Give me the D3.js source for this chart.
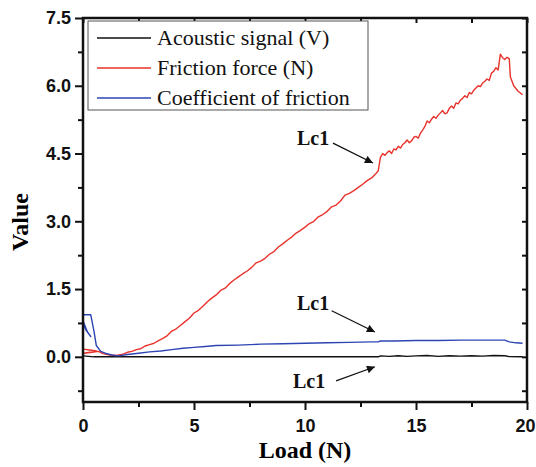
<!DOCTYPE html>
<html>
<head>
<meta charset="utf-8">
<script src="https://cdn.jsdelivr.net/npm/d3@7/dist/d3.min.js"></script>
<style>
    html, body { margin: 0; padding: 0; background: #fff; }
    svg { display: block; font-family: "Liberation Serif", "Times New Roman", serif; }
    .tick-label { font-size: 18px; font-weight: bold; }
    .axis-title { font-size: 24px; font-weight: bold; }
    .legend-text { font-size: 22px; }
    .note { font-size: 20px; font-weight: bold; }
</style>
</head>
<body>
<svg id="chart" width="536" height="467"></svg>
<script>
// series: [load (N), value]
var friction = [
    [0, 0.17], [0.3, 0.15], [0.6, 0.13], [0.05, 0.08], [0.4, 0.10], [0.7, 0.12], [0.9, 0.07],
    [1.2, 0.04], [1.5, 0.03], [1.8, 0.06], [2.0, 0.10], [2.2, 0.12], [2.4, 0.16], [2.6, 0.18],
    [2.8, 0.24], [3.0, 0.27], [3.2, 0.30], [3.4, 0.36], [3.6, 0.41], [3.8, 0.47], [4.0, 0.57],
    [4.2, 0.62], [4.4, 0.70], [4.6, 0.78], [4.8, 0.86], [5.0, 0.97], [5.2, 1.03], [5.4, 1.12],
    [5.6, 1.22], [5.8, 1.30], [6.0, 1.37], [6.2, 1.47], [6.4, 1.52], [6.6, 1.62], [6.8, 1.70],
    [7.0, 1.77], [7.2, 1.84], [7.4, 1.90], [7.6, 1.98], [7.8, 2.08], [8.0, 2.12], [8.2, 2.18],
    [8.4, 2.27], [8.6, 2.33], [8.8, 2.43], [9.0, 2.50], [9.2, 2.58], [9.4, 2.65], [9.6, 2.74],
    [9.8, 2.80], [10.0, 2.87], [10.2, 2.95], [10.4, 3.00], [10.6, 3.10], [10.8, 3.15], [11.0, 3.22],
    [11.2, 3.32], [11.4, 3.36], [11.6, 3.45], [11.8, 3.58], [12.0, 3.62], [12.2, 3.68], [12.4, 3.75],
    [12.6, 3.82], [12.8, 3.90], [13.0, 3.96], [13.2, 4.06], [13.3, 4.12], [13.4, 4.42], [13.5, 4.50],
    [13.6, 4.46], [13.7, 4.52], [13.8, 4.56], [13.9, 4.50], [14.0, 4.60], [14.1, 4.58], [14.2, 4.66],
    [14.3, 4.62], [14.4, 4.70], [14.5, 4.74], [14.6, 4.80], [14.7, 4.74], [14.8, 4.78], [14.9, 4.86],
    [15.0, 4.88], [15.1, 4.84], [15.2, 4.95], [15.3, 5.02], [15.4, 5.10], [15.5, 5.22], [15.6, 5.18],
    [15.7, 5.26], [15.8, 5.32], [15.9, 5.28], [16.0, 5.35], [16.1, 5.40], [16.2, 5.45], [16.3, 5.38],
    [16.4, 5.40], [16.5, 5.50], [16.6, 5.55], [16.7, 5.50], [16.8, 5.62], [16.9, 5.60], [17.0, 5.68],
    [17.1, 5.72], [17.2, 5.78], [17.3, 5.74], [17.4, 5.85], [17.5, 5.82], [17.6, 5.90], [17.7, 5.95],
    [17.8, 6.00], [17.9, 5.98], [18.0, 6.06], [18.1, 6.10], [18.2, 6.15], [18.3, 6.12], [18.4, 6.28],
    [18.5, 6.32], [18.6, 6.40], [18.7, 6.35], [18.8, 6.70], [18.9, 6.62], [19.0, 6.58], [19.1, 6.63],
    [19.2, 6.60], [19.25, 6.20], [19.4, 6.00], [19.6, 5.88], [19.8, 5.80]
];

var coefficient = [
    [0, 0.72], [0.15, 0.58], [0.35, 0.45], [0.2, 0.55], [0, 0.80], [0, 0.93], [0.35, 0.93],
    [0.5, 0.55], [0.6, 0.25], [0.8, 0.12], [1.0, 0.08], [1.3, 0.04], [1.6, 0.02], [2.0, 0.05],
    [2.5, 0.08], [3.0, 0.11], [3.5, 0.13], [4.0, 0.16], [4.5, 0.19], [5.0, 0.21], [5.5, 0.23],
    [6.0, 0.25], [7.0, 0.26], [8.0, 0.28], [9.0, 0.29], [10.0, 0.30], [11.0, 0.31], [12.0, 0.32],
    [13.0, 0.33], [13.3, 0.33], [13.4, 0.35], [14.0, 0.35], [15.0, 0.36], [16.0, 0.36], [17.0, 0.37],
    [18.0, 0.37], [19.0, 0.37], [19.2, 0.33], [19.5, 0.31], [19.8, 0.30]
];

var acoustic = [
    [0, 0.02], [0.5, 0.0], [13.3, 0.0], [13.4, 0.02], [13.8, 0.01], [14.2, 0.025], [14.6, 0.01],
    [15.0, 0.02], [15.5, 0.03], [16.0, 0.01], [16.5, 0.025], [17.0, 0.015], [17.5, 0.025], [18.0, 0.015],
    [18.5, 0.03], [19.0, 0.025], [19.2, 0.005], [19.8, 0.0]
];

var xTicks = [0, 5, 10, 15, 20];
var xMinor = [2.5, 7.5, 12.5, 17.5];
var yTicks = [0, 1.5, 3.0, 4.5, 6.0, 7.5];
var yMinor = [-0.75, 0.75, 2.25, 3.75, 5.25, 6.75];

var legendNames = ["Acoustic signal (V)", "Friction force (N)", "Coefficient of friction"];
var legendColors = ["#111111", "#e8322b", "#2d45b2"];

// "Lc1" notes: text anchor and arrow (from -> to) in data units
var notes = [
    { text: [9.64, 4.69], from: [11.26, 4.73], to: [13.06, 4.29] },
    { text: [9.64, 1.04], from: [11.2, 1.02], to: [13.15, 0.55] },
    { text: [9.46, -0.69], from: [11.4, -0.53], to: [13.15, -0.22] }
];

( function(d3) {
    var svg = d3.select("#chart");
    var left = 83, right = 527, top = 18, bottom = 402;

    var x = d3.scaleLinear().domain([0, 20]).range([left, right]);
    var y = d3.scaleLinear().domain([-1, 7.5]).range([bottom, top]);

    var defs = svg.append("defs");
    defs.append("marker")
        .attr("id", "arrow")
        .attr("viewBox", "0 0 10 10")
        .attr("refX", 10).attr("refY", 5)
        .attr("markerWidth", 10).attr("markerHeight", 8)
        .attr("markerUnits", "userSpaceOnUse")
        .attr("orient", "auto")
        .append("path")
        .attr("d", "M0,0 L10,5 L0,10 Z")
        .attr("fill", "#111");

    var line = d3.line()
        .x(function(d) { return x(d[0]); })
        .y(function(d) { return y(d[1]); });

    // series
    var series = [acoustic, friction, coefficient];
    series.forEach(function(s, i) {
        svg.append("path")
            .datum(s)
            .attr("d", line)
            .attr("fill", "none")
            .attr("stroke", legendColors[i])
            .attr("stroke-width", 1.4)
            .attr("stroke-linejoin", "round");
    });

    // axes (bottom / left outward, top / right inward)
    var gx = svg.append("g").attr("transform", "translate(0," + bottom + ")")
        .call(d3.axisBottom(x).tickValues(xTicks).tickSize(8).tickFormat(d3.format("d")));
    var gxm = svg.append("g").attr("transform", "translate(0," + bottom + ")")
        .call(d3.axisBottom(x).tickValues(xMinor).tickSize(5).tickFormat(""));
    var gy = svg.append("g").attr("transform", "translate(" + left + ",0)")
        .call(d3.axisLeft(y).tickValues(yTicks).tickSize(8).tickFormat(d3.format(".1f")));
    var gym = svg.append("g").attr("transform", "translate(" + left + ",0)")
        .call(d3.axisLeft(y).tickValues(yMinor).tickSize(5).tickFormat(""));
    var gt = svg.append("g").attr("transform", "translate(0," + top + ")")
        .call(d3.axisBottom(x).tickValues(xTicks.concat(xMinor)).tickSize(5).tickFormat(""));
    var gr = svg.append("g").attr("transform", "translate(" + right + ",0)")
        .call(d3.axisLeft(y).tickValues(yTicks.concat(yMinor)).tickSize(5).tickFormat(""));

    [gx, gxm, gy, gym, gt, gr].forEach(function(g) {
        g.select(".domain").remove();
        g.selectAll(".tick line").attr("stroke", "#111").attr("stroke-width", 2);
        g.selectAll(".tick text")
            .attr("class", "tick-label")
            .attr("fill", "#111")
            .style("font-family", "inherit");
    });
    gx.selectAll(".tick text").attr("dy", "1.05em");
    // last label sits on the window edge, keep it inside
    gx.selectAll(".tick text").filter(function(d) { return d === 20; })
        .attr("text-anchor", "end").attr("x", 8);
    gy.selectAll(".tick text").attr("x", -12);

    svg.append("rect")
        .attr("x", left).attr("y", top)
        .attr("width", right - left).attr("height", bottom - top)
        .attr("fill", "none")
        .attr("stroke", "#111")
        .attr("stroke-width", 2.5);

    // titles
    svg.append("text")
        .attr("class", "axis-title")
        .attr("x", (left + right) / 2).attr("y", 458)
        .attr("text-anchor", "middle")
        .text("Load (N)");
    svg.append("text")
        .attr("class", "axis-title")
        .attr("transform", "translate(28," + ((top + bottom) / 2 + 12) + ") rotate(-90)")
        .attr("text-anchor", "middle")
        .text("Value");

    // legend
    var legend = svg.append("g");
    legend.append("rect")
        .attr("x", 88).attr("y", 21)
        .attr("width", 280).attr("height", 89)
        .attr("fill", "#fff")
        .attr("stroke", "#555")
        .attr("stroke-width", 1);
    legendNames.forEach(function(name, i) {
        var ly = 38 + i * 30;
        legend.append("line")
            .attr("x1", 97).attr("x2", 151)
            .attr("y1", ly).attr("y2", ly)
            .attr("stroke", legendColors[i])
            .attr("stroke-width", 1.5);
        legend.append("text")
            .attr("class", "legend-text")
            .attr("x", 157).attr("y", ly + 7)
            .attr("fill", "#111")
            .text(name);
    });

    // Lc1 notes
    notes.forEach(function(n) {
        svg.append("text")
            .attr("class", "note")
            .attr("x", x(n.text[0])).attr("y", y(n.text[1]))
            .attr("fill", "#111")
            .text("Lc1");
        svg.append("line")
            .attr("x1", x(n.from[0])).attr("y1", y(n.from[1]))
            .attr("x2", x(n.to[0])).attr("y2", y(n.to[1]))
            .attr("stroke", "#111")
            .attr("stroke-width", 1.3)
            .attr("marker-end", "url(#arrow)");
    });
})(d3);
</script>
</body>
</html>
